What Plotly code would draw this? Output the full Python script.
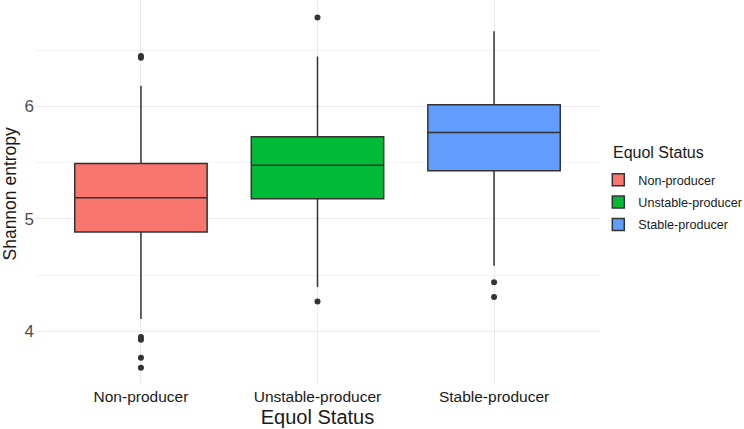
import plotly.graph_objects as go

categories = ["Non-producer", "Unstable-producer", "Stable-producer"]
colors = ["#F8766D", "#00BA38", "#619CFF"]
q1 = [4.884, 5.178, 5.427]
median = [5.187, 5.477, 5.768]
q3 = [5.492, 5.730, 6.015]
lower_whisker = [4.109, 4.394, 4.584]
upper_whisker = [6.184, 6.443, 6.668]
outliers = [
    [6.448, 6.432, 3.949, 3.925, 3.765, 3.676],
    [6.790, 4.266],
    [4.436, 4.305],
]

fig = go.Figure()
for i, cat in enumerate(categories):
    fig.add_trace(go.Box(
        x=[cat], q1=[q1[i]], median=[median[i]], q3=[q3[i]],
        lowerfence=[lower_whisker[i]], upperfence=[upper_whisker[i]],
        name=cat, legendgroup=cat, fillcolor=colors[i], line=dict(color="#333333", width=1.5),
        width=0.75, whiskerwidth=0, boxpoints=False, hoverinfo="skip",
    ))
for i, cat in enumerate(categories):
    fig.add_trace(go.Scatter(
        x=[cat] * len(outliers[i]), y=outliers[i], mode="markers",
        marker=dict(color="#333333", size=6), showlegend=False, hoverinfo="skip",
    ))

fig.add_annotation(
    text="Equol Status", xref="paper", yref="paper",
    x=(611 - 35) / 565, y=1 - 152 / 385, xanchor="left", yanchor="middle",
    showarrow=False, font=dict(size=16, color="#1a1a1a"),
)
fig.add_annotation(
    text="Shannon entropy", xref="paper", yref="paper",
    x=(9 - 35) / 565, y=1 - 193.5 / 385, xanchor="center", yanchor="middle",
    textangle=-90, showarrow=False, font=dict(size=17.5, color="#1a1a1a"),
)

fig.update_layout(
    width=744, height=429,
    margin=dict(l=35, r=144, t=0, b=44, autoexpand=False),
    plot_bgcolor="white", paper_bgcolor="white",
    boxmode="overlay",
    font=dict(family="Liberation Sans, Arial, sans-serif", color="#1a1a1a"),
    legend=dict(
        x=0.997, xanchor="left", y=1 - 165 / 385, yanchor="top",
        font=dict(size=12.6, color="#1a1a1a"),
        tracegroupgap=3,
        bgcolor="rgba(0,0,0,0)",
    ),
    xaxis=dict(
        categoryorder="array", categoryarray=categories,
        range=[-0.6, 2.6],
        showgrid=True, gridcolor="#ebebeb", gridwidth=1,
        zeroline=False, showline=False, ticks="",
        tickfont=dict(size=15.5, color="#1a1a1a"),
        title=dict(text="Equol Status", font=dict(size=20, color="#1a1a1a"), standoff=6),
    ),
    yaxis=dict(
        range=[3.523, 6.946],
        tickvals=[4, 5, 6],
        showgrid=True, gridcolor="#ebebeb", gridwidth=1,
        minor=dict(tickvals=[3.5, 4.5, 5.5, 6.5], showgrid=True, gridcolor="#f3f3f3", gridwidth=1),
        zeroline=False, showline=False, ticks="",
        tickfont=dict(size=17, color="#4d4d4d"),
    ),
)

fig.write_html("out.html")
